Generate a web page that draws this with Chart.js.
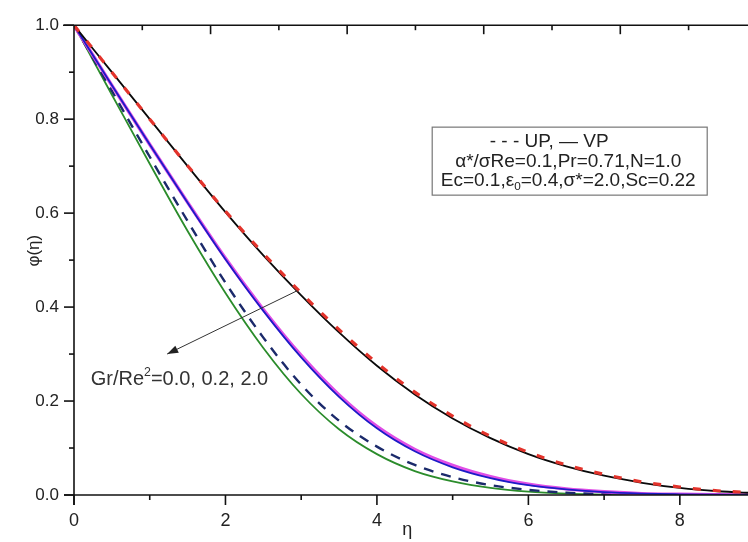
<!DOCTYPE html>
<html><head><meta charset="utf-8">
<script src="https://cdn.jsdelivr.net/npm/chart.js@4.4.1/dist/chart.umd.min.js"></script>
<style>html,body{margin:0;padding:0;background:#fff;overflow:hidden}</style>
</head><body>
<canvas id="c" width="748" height="542"></canvas>
<script>
// ---- data ----
const eta = [0,0.5,1,1.5,2,2.5,3,3.5,4,4.5,5,5.5,6,6.5,7,7.5,8,8.5,9];
// Gr/Re^2 = 0.0
const vpGr00 = [1,0.90,0.80,0.70,0.602,0.51,0.425,0.346,0.275,0.214,0.163,0.121,0.087,0.061,0.041,0.026,0.015,0.008,0.004];
const upGr00 = [1,0.90,0.80,0.701,0.604,0.514,0.43,0.352,0.281,0.219,0.168,0.125,0.091,0.064,0.044,0.028,0.017,0.009,0.005];
// Gr/Re^2 = 0.2
const vpGr02 = [1,0.872,0.746,0.622,0.502,0.392,0.293,0.209,0.142,0.093,0.059,0.036,0.021,0.012,0.006,0.003,0.0015,0.0006,0];
const upGr02 = [1,0.872,0.746,0.623,0.504,0.395,0.297,0.213,0.146,0.097,0.063,0.039,0.023,0.013,0.007,0.003,0.0015,0.0006,0];
// Gr/Re^2 = 2.0
const vpGr20 = [1,0.852,0.705,0.562,0.43,0.313,0.215,0.14,0.087,0.051,0.029,0.015,0.007,0.003,0.001,0,0,0,0];
const upGr20 = [1,0.86,0.72,0.583,0.452,0.335,0.235,0.158,0.103,0.064,0.038,0.021,0.011,0.005,0.002,0.001,0,0,0];

const xTickLabels = ['0','2','4','6','8'];
const yTickLabels = ['0.0','0.2','0.4','0.6','0.8','1.0'];
const xTitle = 'η';
const yTitle = 'φ(η)';
const legendLine1 = '- - - UP, — VP';
const legendLine2 = 'α*/σRe=0.1,Pr=0.71,N=1.0';
const legendLine3 = [['Ec=0.1,ε',0],['0',-1],['=0.4,σ*=2.0,Sc=0.22',0]];
const annotText = [['Gr/Re',0],['2',1],['=0.0, 0.2, 2.0',0]];
const arrowFrom = {x:2.95, y:0.435};
const arrowTo = {x:1.23, y:0.30};

const FONT = 'Liberation Sans, Arial, sans-serif';
const pts = arr => eta.map((e,i)=>({x:e, y:arr[i]}));

function drawRich(ctx, parts, x, y, size, align){
  const widths = parts.map(([t,k]) => { ctx.font = (k? size*0.62 : size) + 'px ' + FONT; return ctx.measureText(t).width; });
  const total = widths.reduce((a,b)=>a+b,0);
  let cx = align==='center' ? x - total/2 : x;
  parts.forEach(([t,k],i)=>{
    ctx.font = (k? size*0.62 : size) + 'px ' + FONT;
    const dy = k===-1 ? size*0.32 : (k===1 ? -size*0.38 : 0);
    ctx.fillText(t, cx, y+dy);
    cx += widths[i];
  });
}

const framePlugin = {
  id:'frame',
  afterDraw(chart){
    const {ctx, chartArea:a, scales:{x, y, x2}} = chart;
    ctx.save();
    ctx.strokeStyle = '#111';
    ctx.lineWidth = 1.6;
    const line = (x1,y1,x3,y3)=>{ctx.beginPath();ctx.moveTo(x1,y1);ctx.lineTo(x3,y3);ctx.stroke();};
    // axes
    line(a.left, a.top, a.left, a.bottom + 10);
    line(a.left - 10, a.bottom, a.right, a.bottom);
    line(a.left - 11, a.top, a.right, a.top);
    // bottom ticks
    x.ticks.forEach(t=>{
      const v = Math.round(t.value); if (Math.abs(t.value - v) > 1e-6) return;
      const px = x.getPixelForValue(v);
      line(px, a.bottom, px, a.bottom + (v%2===0 ? 10 : 5));
    });
    // left ticks
    y.ticks.forEach(t=>{
      const k = Math.round(t.value*10);
      const py = y.getPixelForValue(t.value);
      line(a.left, py, a.left - (k%2===0 ? 10 : 5), py);
    });
    // top ticks (own scale)
    x2.ticks.forEach(t=>{
      const v = Math.round(t.value); if (Math.abs(t.value - v) > 1e-6 || v===0) return;
      const px = x2.getPixelForValue(v);
      line(px, a.top, px, a.top + (v%2===0 ? 9 : 5));
    });
    // axis titles
    ctx.fillStyle = '#222';
    ctx.textBaseline = 'middle';
    ctx.textAlign = 'center';
    ctx.font = '18px ' + FONT;
    ctx.fillText(xTitle, x.getPixelForValue(4.4), a.bottom + 35);
    ctx.save();
    ctx.translate(34, y.getPixelForValue(0.52));
    ctx.rotate(-Math.PI/2);
    ctx.font = '17px ' + FONT;
    ctx.fillText(yTitle, 0, 0);
    ctx.restore();

    // legend box
    const bx = x.getPixelForValue(4.73), by = y.getPixelForValue(0.783);
    const bw = 275, bh = 68;
    ctx.strokeStyle = '#777'; ctx.lineWidth = 1.2;
    ctx.strokeRect(bx, by, bw, bh);
    ctx.fillStyle = '#222';
    ctx.textAlign = 'left';
    ctx.font = '19px ' + FONT;
    let w1 = ctx.measureText(legendLine1).width;
    ctx.fillText(legendLine1, bx + 117 - w1/2, by + 15);
    let w2 = ctx.measureText(legendLine2).width;
    ctx.fillText(legendLine2, bx + 136 - w2/2, by + 35);
    drawRich(ctx, legendLine3, bx + 136, by + 54, 19, 'center');

    // arrow annotation
    const x1 = x.getPixelForValue(arrowFrom.x), y1 = y.getPixelForValue(arrowFrom.y);
    const x3 = x.getPixelForValue(arrowTo.x), y3 = y.getPixelForValue(arrowTo.y);
    ctx.strokeStyle = '#333'; ctx.lineWidth = 1;
    line(x1, y1, x3, y3);
    const ang = Math.atan2(y3-y1, x3-x1);
    ctx.fillStyle = '#222';
    ctx.beginPath();
    ctx.moveTo(x3, y3);
    ctx.lineTo(x3 - 11*Math.cos(ang) + 4*Math.sin(ang), y3 - 11*Math.sin(ang) - 4*Math.cos(ang));
    ctx.lineTo(x3 - 11*Math.cos(ang) - 4*Math.sin(ang), y3 - 11*Math.sin(ang) + 4*Math.cos(ang));
    ctx.closePath(); ctx.fill();
    ctx.fillStyle = '#333';
    drawRich(ctx, annotText, x.getPixelForValue(0.22), y.getPixelForValue(0.245), 20, 'left');
    ctx.restore();
  }
};

new Chart(document.getElementById('c').getContext('2d'), {
  type:'line',
  data:{ datasets:[
    {label:'UP Gr/Re²=0.0', data:pts(upGr00), borderColor:'#e3332b', borderWidth:3.2, borderDash:[8,12], order:0},
    {label:'VP Gr/Re²=0.0', data:pts(vpGr00), borderColor:'#0a0a0a', borderWidth:1.8, order:1},
    {label:'VP Gr/Re²=0.2', data:pts(vpGr02), borderColor:'#1c1cc8', borderWidth:1.8, order:2},
    {label:'UP Gr/Re²=0.2', data:pts(upGr02), borderColor:'#e04ee6', borderWidth:3.4, order:3},
    {label:'UP Gr/Re²=2.0', data:pts(upGr20), borderColor:'#1b2a6b', borderWidth:2.4, borderDash:[10,8], order:4},
    {label:'VP Gr/Re²=2.0', data:pts(vpGr20), borderColor:'#2b8c2b', borderWidth:1.8, order:5}
  ]},
  options:{
    responsive:false, animation:false, devicePixelRatio:1,
    layout:{padding:{top:17,right:0,left:0,bottom:0}},
    elements:{point:{radius:0}, line:{cubicInterpolationMode:'monotone', fill:false}},
    plugins:{legend:{display:false}, tooltip:{enabled:false}},
    scales:{
      x:{type:'linear', position:'bottom', min:0, max:8.9,
        ticks:{stepSize:1, includeBounds:false, autoSkip:false, maxRotation:0, padding:15, color:'#222',
          font:{family:FONT, size:18},
          callback:v=>{const r=Math.round(v); return (Math.abs(v-r)<1e-6 && r%2===0) ? xTickLabels[r/2] : '';}},
        grid:{display:false, drawTicks:false}, border:{display:false},
        afterFit(s){ s.height = 47; }
      },
      y:{type:'linear', position:'left', min:0, max:1,
        ticks:{stepSize:0.1, autoSkip:false, padding:15, color:'#222',
          font:{family:FONT, size:17},
          callback:v=>{const k=Math.round(v*10); return k%2===0 ? yTickLabels[k/2] : '';}},
        grid:{display:false, drawTicks:false}, border:{display:false},
        afterFit(s){ s.width = 74; }
      },
      x2:{type:'linear', position:'top', min:0, max:9.87, display:false, ticks:{stepSize:1, includeBounds:false}}
    }
  },
  plugins:[framePlugin]
});
</script>
</body></html>
